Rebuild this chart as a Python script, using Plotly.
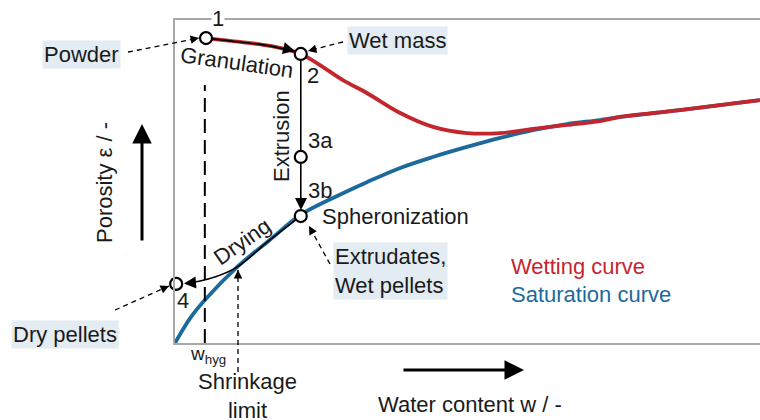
import plotly.graph_objects as go

FONT = "Liberation Sans, Arial, sans-serif"
TXT = "#1a1a1a"
RED = "#c4262e"
BLUE = "#1c6a9b"
BOX = "#e3ecf2"
FS = 22

# ---- data (water content w, porosity eps; normalised schematic units) ----
wet_w = [0.053, 0.111, 0.162, 0.215, 0.287, 0.328, 0.385, 0.441, 0.499, 0.556, 0.612, 0.670, 0.726, 0.761, 0.863, 1.0]
wet_eps = [0.944, 0.932, 0.920, 0.895, 0.814, 0.774, 0.712, 0.669, 0.650, 0.650, 0.663, 0.675, 0.687, 0.700, 0.721, 0.752]

sat_w = [0.0, 0.026, 0.051, 0.106, 0.162, 0.214, 0.270, 0.328, 0.385, 0.441, 0.499, 0.556, 0.612, 0.670, 0.726, 0.761, 0.863, 1.0]
sat_eps = [0.0, 0.077, 0.133, 0.235, 0.319, 0.396, 0.449, 0.498, 0.542, 0.576, 0.607, 0.635, 0.659, 0.678, 0.690, 0.700, 0.721, 0.752]

state_labels = ["1", "2", "3a", "3b", "4"]
state_w = [0.053, 0.215, 0.215, 0.215, 0.002]
state_eps = [0.944, 0.895, 0.576, 0.393, 0.183]

gran_w = [0.053, 0.111, 0.162, 0.203]
gran_eps = [0.944, 0.932, 0.920, 0.902]

dry_w = [0.215, 0.162, 0.106, 0.068, 0.043, 0.020]
dry_eps = [0.393, 0.319, 0.235, 0.204, 0.192, 0.186]

w_hyg = 0.051

# layout geometry helpers (pixel -> paper)
L, R, T, B = 175, 0, 20, 77
W, H = 760, 420
PW, PH = W - L - R, H - T - B


def px(x):
    return (x - L) / PW


def py(y):
    return (H - B - y) / PH


fig = go.Figure()

fig.add_trace(go.Scatter(x=sat_w, y=sat_eps, mode="lines", line=dict(color=BLUE, width=3.8, shape="spline"),
                         hoverinfo="skip", showlegend=False))
fig.add_trace(go.Scatter(x=wet_w, y=wet_eps, mode="lines", line=dict(color=RED, width=3.8, shape="spline"),
                         hoverinfo="skip", showlegend=False))
fig.add_trace(go.Scatter(x=gran_w, y=gran_eps, mode="lines", line=dict(color="black", width=1.6, shape="spline"),
                         hoverinfo="skip", showlegend=False))
fig.add_trace(go.Scatter(x=dry_w, y=dry_eps, mode="lines", line=dict(color="black", width=1.6, shape="spline"),
                         hoverinfo="skip", showlegend=False))
fig.add_trace(go.Scatter(x=[state_w[1], state_w[3]], y=[state_eps[1], state_eps[3] + 0.04], mode="lines",
                         line=dict(color="black", width=1.6), hoverinfo="skip", showlegend=False))
fig.add_trace(go.Scatter(x=state_w, y=state_eps, mode="markers",
                         marker=dict(size=12, color="white", line=dict(color="black", width=2.2)),
                         hoverinfo="skip", showlegend=False, cliponaxis=False))

shapes = []
# w_hyg dashed line
shapes.append(dict(type="line", xref="x", yref="y", x0=w_hyg, x1=w_hyg, y0=0, y1=py(85),
                   line=dict(color="black", width=2, dash="14px,7px")))


def dashed_arrow(x0, y0, x1, y1):
    # tail (x0,y0) -> tip (x1,y1) in pixels
    shapes.append(dict(type="line", xref="paper", yref="paper", x0=px(x0), y0=py(y0), x1=px(x1), y1=py(y1),
                       line=dict(color="black", width=1.3, dash="5px,4px")))
    dx, dy = x1 - x0, y1 - y0
    n = (dx * dx + dy * dy) ** 0.5
    return dict(x=px(x1), y=py(y1), xref="paper", yref="paper", ax=-dx / n * 7, ay=-dy / n * 7,
                showarrow=True, arrowhead=2, arrowsize=1.3, arrowwidth=1.3, arrowcolor="black", text="", standoff=0)


ann = []
ann.append(dashed_arrow(128, 52, 199, 38))
ann.append(dashed_arrow(343, 42, 308, 51))
ann.append(dashed_arrow(330, 264, 309, 226))
ann.append(dashed_arrow(115, 310, 169, 286))
ann.append(dashed_arrow(238, 372, 238, 270))

# solid arrowheads
ann.append(dict(x=px(295), y=py(51), xref="paper", yref="paper", ax=-12, ay=-3, showarrow=True, arrowhead=2,
                arrowsize=1.5, arrowwidth=1.6, arrowcolor="black", text="", standoff=0))
ann.append(dict(x=px(301), y=py(210), xref="paper", yref="paper", ax=0, ay=-14, showarrow=True, arrowhead=2,
                arrowsize=1.5, arrowwidth=1.6, arrowcolor="black", text="", standoff=0))
ann.append(dict(x=px(184), y=py(283.5), xref="paper", yref="paper", ax=13, ay=-1, showarrow=True, arrowhead=2,
                arrowsize=1.5, arrowwidth=1.6, arrowcolor="black", text="", standoff=0))
# big axis arrows
ann.append(dict(x=px(142), y=py(124), xref="paper", yref="paper", ax=0, ay=118, showarrow=True, arrowhead=2,
                arrowsize=1.3, arrowwidth=3, arrowcolor="black", text="", standoff=0))
ann.append(dict(x=px(524), y=py(370), xref="paper", yref="paper", ax=-122, ay=0, showarrow=True, arrowhead=2,
                arrowsize=1.3, arrowwidth=3, arrowcolor="black", text="", standoff=0))


def txt(t, x, y, angle=0, color=TXT, size=FS, xanchor="center", bg=None, align="center", pad=1):
    d = dict(text=t, x=px(x), y=py(y), xref="paper", yref="paper", showarrow=False, textangle=angle,
             font=dict(family=FONT, size=size, color=color), xanchor=xanchor, yanchor="middle", align=align)
    if bg:
        d["bgcolor"] = bg
        d["borderpad"] = pad
    ann.append(d)


txt(state_labels[0], 218, 19, bg="white", pad=0)
txt("Granulation", 237, 63, angle=8)
txt(state_labels[1], 313, 75)
txt("Extrusion", 281, 136, angle=-90)
txt(state_labels[2], 320, 140)
txt(state_labels[3], 320, 190)
txt("Spheronization", 320, 216, xanchor="left")
txt("Drying", 242, 241, angle=-35)
txt(state_labels[4], 183, 300)
txt("Powder", 81, 54, bg=BOX, pad=1)
txt("Wet mass", 397, 41, bg=BOX, pad=1)
txt("Extrudates,<br>Wet pellets", 333, 271, xanchor="left", bg=BOX, align="left", pad=1)
txt("Dry pellets", 65, 334, bg=BOX, pad=1)
txt("w<sub>hyg</sub>", 208, 355, size=19)
txt("Shrinkage<br>limit", 247, 396)
txt("Porosity ε / -", 104, 183, angle=-90)
txt("Water content w / -", 470, 404)
txt("Wetting curve", 509, 266, xanchor="left", color=RED)
txt("Saturation curve", 509, 294, xanchor="left", color=BLUE)

axis_common = dict(showgrid=False, zeroline=False, showticklabels=False, ticks="", range=[0, 1],
                   showline=True, linecolor="#a8a8a8", linewidth=1.5)
fig.update_layout(
    width=W, height=H, autosize=False,
    margin=dict(l=L, r=R, t=T, b=B),
    paper_bgcolor="white", plot_bgcolor="white",
    xaxis=dict(**axis_common, mirror=True),
    yaxis=dict(**axis_common, mirror=False),
    shapes=shapes, annotations=ann, showlegend=False,
)

fig.write_html("out.html")
